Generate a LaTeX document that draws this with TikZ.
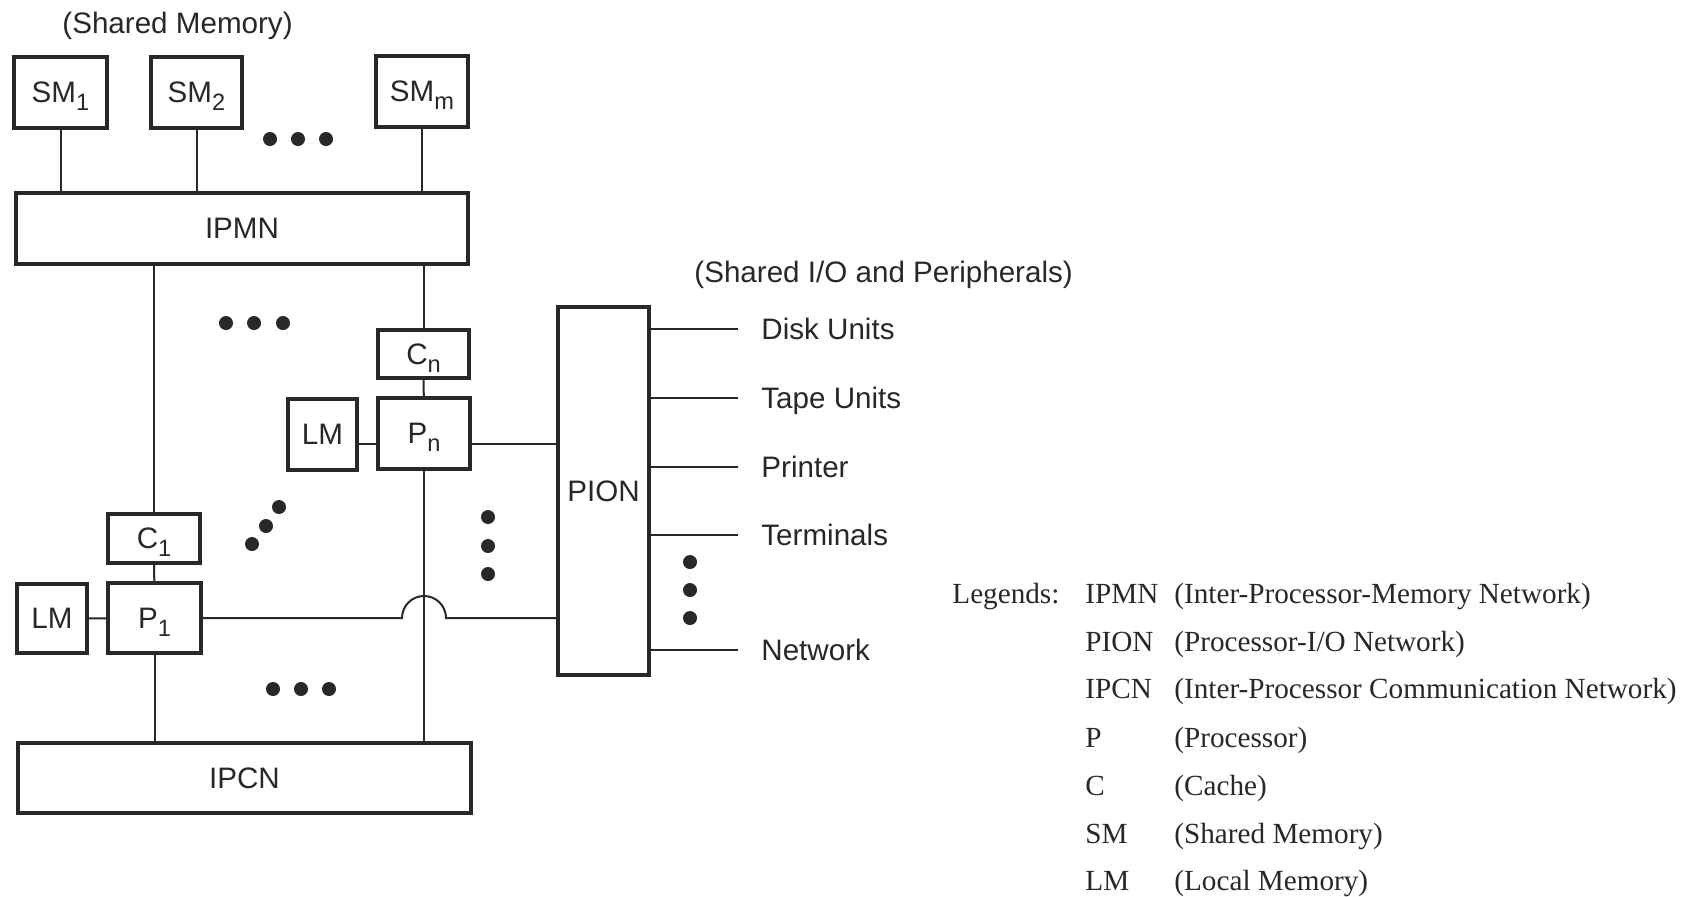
\documentclass[tikz,border=0pt]{standalone}
\usepackage{fontspec}
\setmainfont{Liberation Serif}
\newfontfamily\diafont{Liberation Sans}
\usetikzlibrary{calc}
\definecolor{ink}{RGB}{40,40,40}
\newcommand{\sbs}[1]{\raisebox{-4pt}[0pt][0pt]{\fontsize{11.8}{12}\selectfont #1}}
\begin{document}
\begin{tikzpicture}[x=0.5pt,y=-0.5pt,
  box/.style={draw=ink, line width=1.8pt, inner sep=0pt, font=\diafont\fontsize{14.8}{16}\selectfont, text=ink, fill=white},
  wire/.style={draw=ink, line width=1pt},
  lbl/.style={font=\diafont\fontsize{14.8}{16}\selectfont, text=ink, inner sep=0pt, anchor=base west},
  leg/.style={font=\fontsize{14.6}{16}\selectfont, text=ink, inner sep=0pt, anchor=base west}]
\useasboundingbox[fill=white] (0,0) rectangle (1692,896);

% boxes
\node[box, minimum width=46.5pt, minimum height=35.5pt] (SM1) at (60.5,92.5) {SM\sbs{1}};
\node[box, minimum width=45.5pt, minimum height=35.5pt] (SM2) at (196.5,92.5) {SM\sbs{2}};
\node[box, minimum width=46pt, minimum height=35.5pt] (SMm) at (422,91.5) {SM\sbs{m}};
\node[box, minimum width=226pt, minimum height=35.5pt] (IPMN) at (242,228.5) {IPMN};
\node[box, minimum width=45.5pt, minimum height=24pt] (Cn) at (423.5,354) {C\sbs{n}};
\node[box, minimum width=46pt, minimum height=35.5pt] (Pn) at (424,433.5) {P\sbs{n}};
\node[box, minimum width=34.5pt, minimum height=35.5pt] (LMn) at (322.5,434.5) {LM};
\node[box, minimum width=46pt, minimum height=24.5pt] (C1) at (154,538.5) {C\sbs{1}};
\node[box, minimum width=46.5pt, minimum height=35pt] (P1) at (154.5,618) {P\sbs{1}};
\node[box, minimum width=35pt, minimum height=34.5pt] (LM1) at (52,618.5) {LM};
\node[box, minimum width=226.5pt, minimum height=35pt] (IPCN) at (244.5,778) {IPCN};
\node[box, minimum width=45.5pt, minimum height=184pt] (PION) at (603.5,491) {PION};

% titles
\node[lbl] (tsm) at (62,33) {(Shared Memory)};
\node[lbl] (tio) at (694,282) {(Shared I/O and Peripherals)};

% connectors
\draw[wire] (SM1.south) -- (SM1.south|-IPMN.north);
\draw[wire] (SM2.south) -- (SM2.south|-IPMN.north);
\draw[wire] (SMm.south) -- (SMm.south|-IPMN.north);
\draw[wire] (C1.north|-IPMN.south) -- (C1.north);
\draw[wire] (Cn.north|-IPMN.south) -- (Cn.north);
\draw[wire] (Cn) -- (Pn);
\draw[wire] (C1) -- (P1);
\draw[wire] (LM1) -- (P1);
\coordinate (pl) at (0,444);
\draw[wire] (LMn.east|-pl) -- (Pn.west|-pl);
\draw[wire] (Pn.east|-pl) -- (PION.west|-pl);
\draw[wire] (P1.south) -- (P1.south|-IPCN.north);
\draw[wire] (Pn.south) -- (Pn.south|-IPCN.north);
\draw[wire] (P1.east) -- ($(Pn.south|-P1.east)+(-22,0)$) arc[start angle=180,end angle=360,radius=22] -- (PION.west|-P1.east);

% peripherals
\coordinate (dk) at (738,329);
\coordinate (tp) at (738,398);
\coordinate (pr) at (738,467);
\coordinate (tm) at (738,535);
\coordinate (nw) at (738,650);
\draw[wire] (PION.east|-dk) -- (dk);
\draw[wire] (PION.east|-tp) -- (tp);
\draw[wire] (PION.east|-pr) -- (pr);
\draw[wire] (PION.east|-tm) -- (tm);
\draw[wire] (PION.east|-nw) -- (nw);
\node[lbl] (ldk) at (761,339.5) {Disk Units};
\node[lbl] (ltp) at (761,408.5) {Tape Units};
\node[lbl] (lpr) at (761,477.5) {Printer};
\node[lbl] (ltm) at (761,545.5) {Terminals};
\node[lbl] (lnw) at (761,660.5) {Network};

% ellipsis dots
\foreach \x/\y in {270/139,298/139,326/139,
                   226/323,254/323,283/323,
                   279/507,266/526,252/544,
                   488/517,488/546,488/574,
                   690/562,690/590,690/618,
                   273/689,301/689,329/689}
  \fill[ink] (\x,\y) circle[radius=7];

% legend
\node[leg] (lg) at (952,603) {Legends:};
\node[leg] (a1) at (1085,603) {IPMN};
\node[leg] (b1) at (1174,603) {(Inter-Processor-Memory Network)};
\node[leg] (a2) at (1085,651) {PION};
\node[leg] (b2) at (1174,651) {(Processor-I/O Network)};
\node[leg] (a3) at (1085,698) {IPCN};
\node[leg] (b3) at (1174,698) {(Inter-Processor Communication Network)};
\node[leg] (a4) at (1085,747) {P};
\node[leg] (b4) at (1174,747) {(Processor)};
\node[leg] (a5) at (1085,795) {C};
\node[leg] (b5) at (1174,795) {(Cache)};
\node[leg] (a6) at (1085,843) {SM};
\node[leg] (b6) at (1174,843) {(Shared Memory)};
\node[leg] (a7) at (1085,890) {LM};
\node[leg] (b7) at (1174,890) {(Local Memory)};
\end{tikzpicture}
\end{document}
